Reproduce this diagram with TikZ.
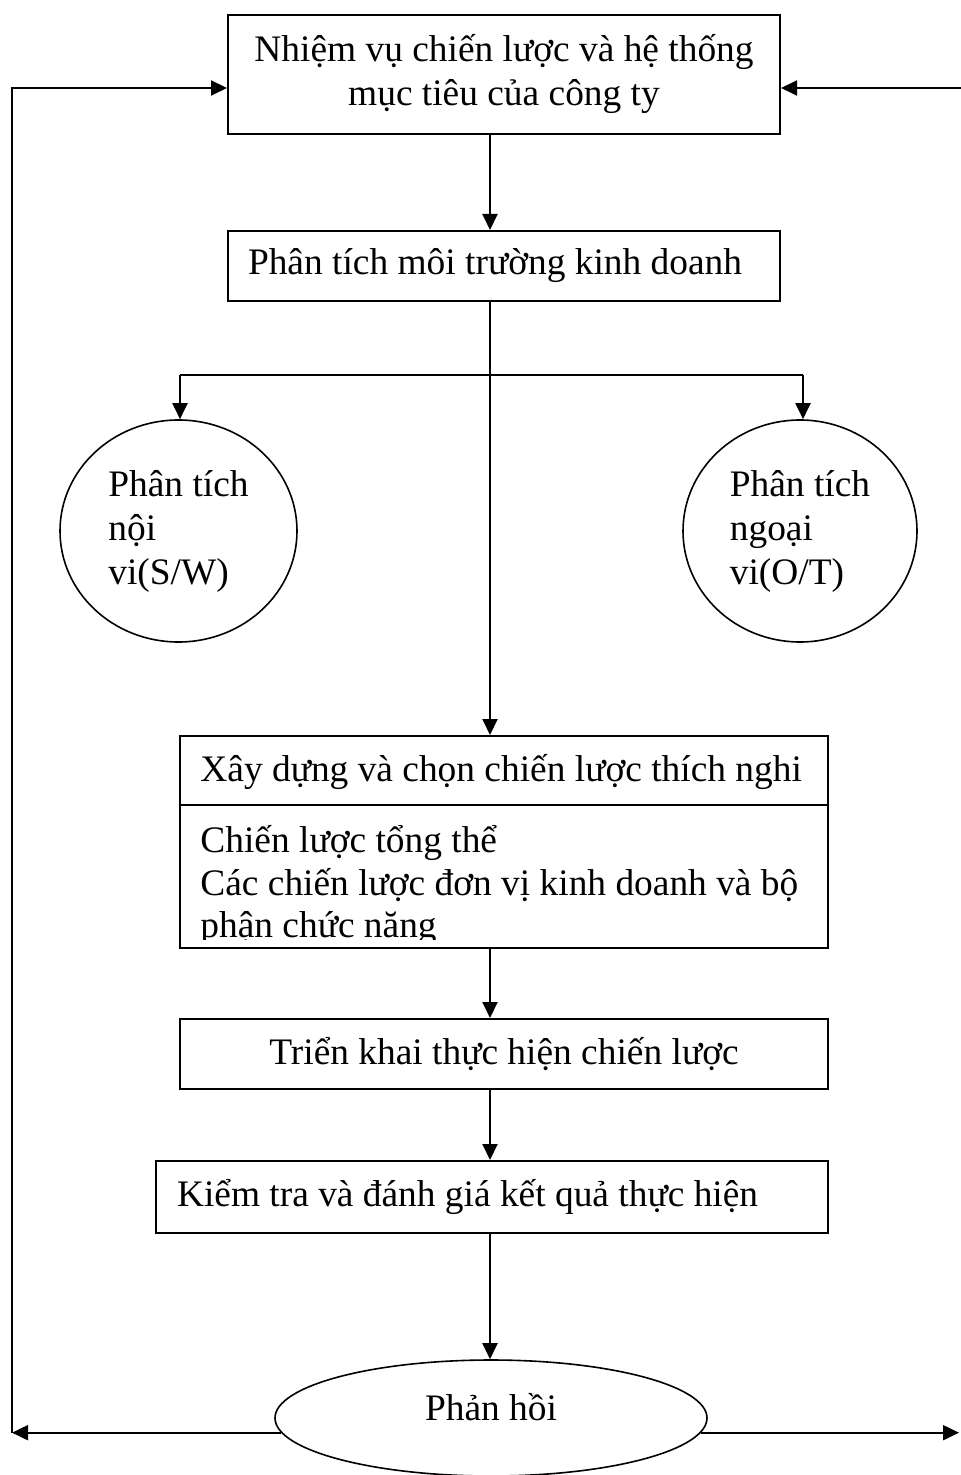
\documentclass[tikz,border=0pt]{standalone}
\usepackage{fontspec}
\setmainfont{Liberation Serif}
\usetikzlibrary{arrows.meta,shapes.geometric}
\begin{document}
\begin{tikzpicture}[x=0.5pt,y=-0.5pt,
  box/.style={draw,line width=1pt,inner sep=0pt},
  oval/.style={draw,ellipse,line width=0.8pt,inner sep=0pt},
  conn/.style={line width=1pt,-{Triangle[length=8pt,width=7.5pt]}},
  plain/.style={line width=1pt},
  txt/.style={inner sep=0pt,anchor=base west},
  every node/.append style={font=\fontsize{18.7}{22}\selectfont}]
\useasboundingbox (0,0) rectangle (960,1475);
% nodes
\node[box,minimum width=276pt,minimum height=59.5pt,align=center] (mission) at (504,74.5) {Nhiệm vụ chiến lược và hệ thống\\mục tiêu của công ty};
\node[box,minimum height=35pt,text width=256pt,inner xsep=10pt,align=flush left] (env) at (504,266) {Phân tích môi trường kinh doanh};
\node[oval,minimum width=118.5pt,minimum height=111pt,align=flush left] (internal) at (178.5,531) {Phân tích\\nội\\vi(S/W)};
\node[oval,minimum width=117pt,minimum height=111pt,align=flush left] (external) at (800,531) {Phân tích\\ngoại\\vi(O/T)};
\node[box,minimum width=324pt,minimum height=106pt] (build) at (504,842) {};
\coordinate (divL) at (180,805);
\coordinate (divR) at (828,805);
\draw[plain] (divL) -- (divR);
\node[txt] (buildhead) at (200,781) {Xây dựng và chọn chiến lược thích nghi};
\begin{scope}
\clip (181,806) rectangle (827,939);
\node[txt] (lineA) at (200,852) {Chiến lược tổng thể};
\node[txt] (lineB) at (200,895) {Các chiến lược đơn vị kinh doanh và bộ};
\node[txt] (lineC) at (200,937) {phận chức năng};
\end{scope}
\node[box,minimum width=324pt,minimum height=35pt] (impl) at (504,1054) {Triển khai thực hiện chiến lược};
\node[box,minimum height=36pt,text width=315pt,inner xsep=10.5pt,align=flush left] (eval) at (492,1197) {Kiểm tra và đánh giá kết quả thực hiện};
\node[oval,minimum width=216pt,minimum height=58pt] (fb) at (491,1418) {};
\node[inner sep=0pt] (fbtext) at (491,1407) {Phản hồi};
% helper coordinates
\coordinate (spine) at (490,0);
\coordinate (brL) at (180,375);
\coordinate (brR) at (803,375);
\coordinate (cornerBL) at (12,1432);
\coordinate (cornerTL) at (12,88);
\coordinate (edgeBR) at (959,1432);
\coordinate (edgeTR) at (961,88);
% connectors
\draw[conn] (mission.south -| spine) -- (env.north -| spine);
\draw[conn] (env.south -| spine) -- (build.north -| spine);
\draw[plain] (brL) -- (brR);
\draw[conn] (brL) -- (brL |- internal.north);
\draw[conn] (brR) -- (brR |- external.north);
\draw[conn] (build.south -| spine) -- (impl.north -| spine);
\draw[conn] (impl.south -| spine) -- (eval.north -| spine);
\draw[conn] (eval.south -| spine) -- (fb.north -| spine);
\path (fb.184) coordinate (fbL);
\path (fb.-4) coordinate (fbR);
\draw[conn] (fbL) -- (fbL -| cornerBL);
\draw[conn] (fbL -| cornerBL) -- (cornerTL) -- (cornerTL -| mission.west);
\draw[conn] (fbR) -- (fbR -| edgeBR);
\draw[conn] (edgeTR) -- (edgeTR -| mission.east);
\end{tikzpicture}
\end{document}
